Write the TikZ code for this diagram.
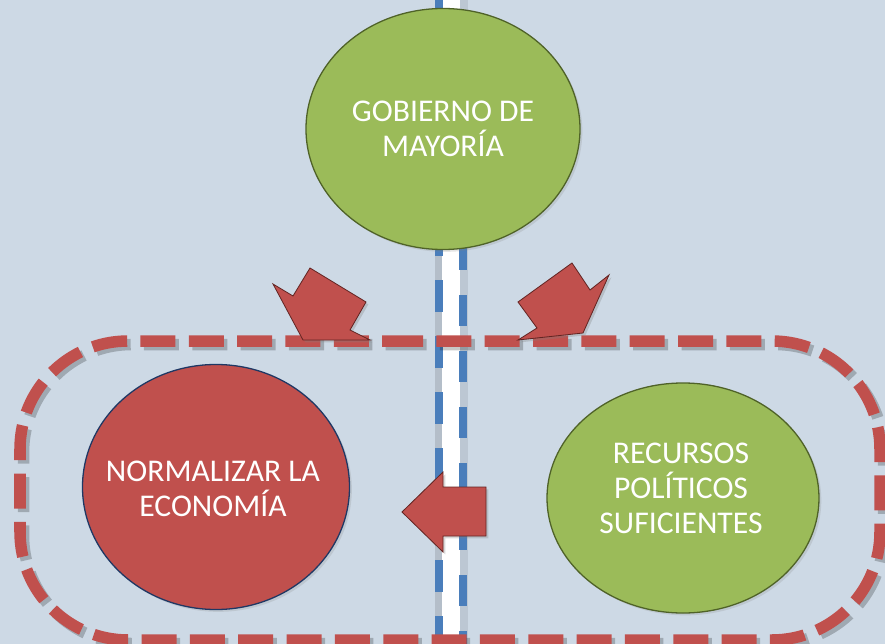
\documentclass[tikz,border=0pt]{standalone}
\usepackage{fontspec}
\setmainfont{Carlito}
\usetikzlibrary{shapes.geometric,shadows}
\definecolor{sky}{HTML}{CDD9E5}
\definecolor{leaf}{HTML}{9BBB59}
\definecolor{moss}{HTML}{4F6228}
\definecolor{brick}{HTML}{C0504D}
\definecolor{wine}{HTML}{632523}
\definecolor{navy}{HTML}{1F3864}
\definecolor{steel}{HTML}{4A7EBB}

\begin{document}
\begin{tikzpicture}[x=0.03cm,y=-0.03cm,font=\fontsize{27}{30}\selectfont,
      e/.style={ellipse,inner sep=0pt,line width=1.1pt,
                drop shadow={opacity=0.2,shadow xshift=2pt,shadow yshift=-2pt}},
      t/.style={text=white,align=center,inner sep=0pt},
      blk/.style={fill=brick,draw=wine,line width=0.7pt,
                  drop shadow={opacity=0.3,shadow xshift=2pt,shadow yshift=-2pt}},
      rim/.style={line width=0.345cm,dash pattern=on 1.05cm off 0.4cm,
                  rounded corners=3.24cm}]
    \useasboundingbox (0,0) rectangle (885,644);
    \fill[sky] (0,0) rectangle (885,644);

    % divider
    \fill[black,opacity=0.12] (435,0) rectangle (444,644);
    \fill[black,opacity=0.08] (460,0) rectangle (468,644);
    \fill[white] (442,0) rectangle (460,644);
    \draw[steel,line width=0.225cm,dash pattern=on 0.96cm off 0.72cm]
      (439,0) -- (439,644);
    \draw[steel,line width=0.225cm,dash pattern=on 0.93cm off 0.75cm]
      (463,15) -- (463,644);

    % dashed frame
    \draw[rim,black,opacity=0.22,xshift=3pt,yshift=-3pt]
      (280,341) -- (880,341) -- (880,640) -- (20,640) -- (20,341) -- cycle;
    \draw[rim,brick]
      (280,341) -- (880,341) -- (880,640) -- (20,640) -- (20,341) -- cycle;

    % top
    \node[e,fill=leaf,draw=moss,minimum width=8.22cm,minimum height=7.23cm]
      (gov) at (443,129) {};
    \node[t] (govT) at (gov) {GOBIERNO DE\\MAYORÍA};
    \filldraw[blk] (310,268) -- (366,302) -- (350,330) -- (370,340)
      -- (303,340) -- (273,284) -- (293,296) -- cycle;
    \filldraw[blk] (572,263) -- (590,290) -- (609,275) -- (583,333)
      -- (518,340) -- (537,328) -- (518,302) -- cycle;

    % bottom
    \node[e,fill=brick,draw=navy,minimum width=8.01cm,minimum height=7.35cm]
      (eco) at (216,487) {};
    \node[t] (ecoT) at (213,489) {NORMALIZAR LA\\ECONOMÍA};
    \node[e,fill=leaf,draw=moss,minimum width=8.16cm,minimum height=6.9cm]
      (rec) at (683,498) {};
    \node[t] (recT) at (681,488) {RECURSOS\\POLÍTICOS\\SUFICIENTES};
    \filldraw[blk] (486,487) -- (443,487) -- (443,472) -- (402,512)
      -- (443,552) -- (443,536) -- (486,536) -- cycle;
  \end{tikzpicture}
\end{document}
